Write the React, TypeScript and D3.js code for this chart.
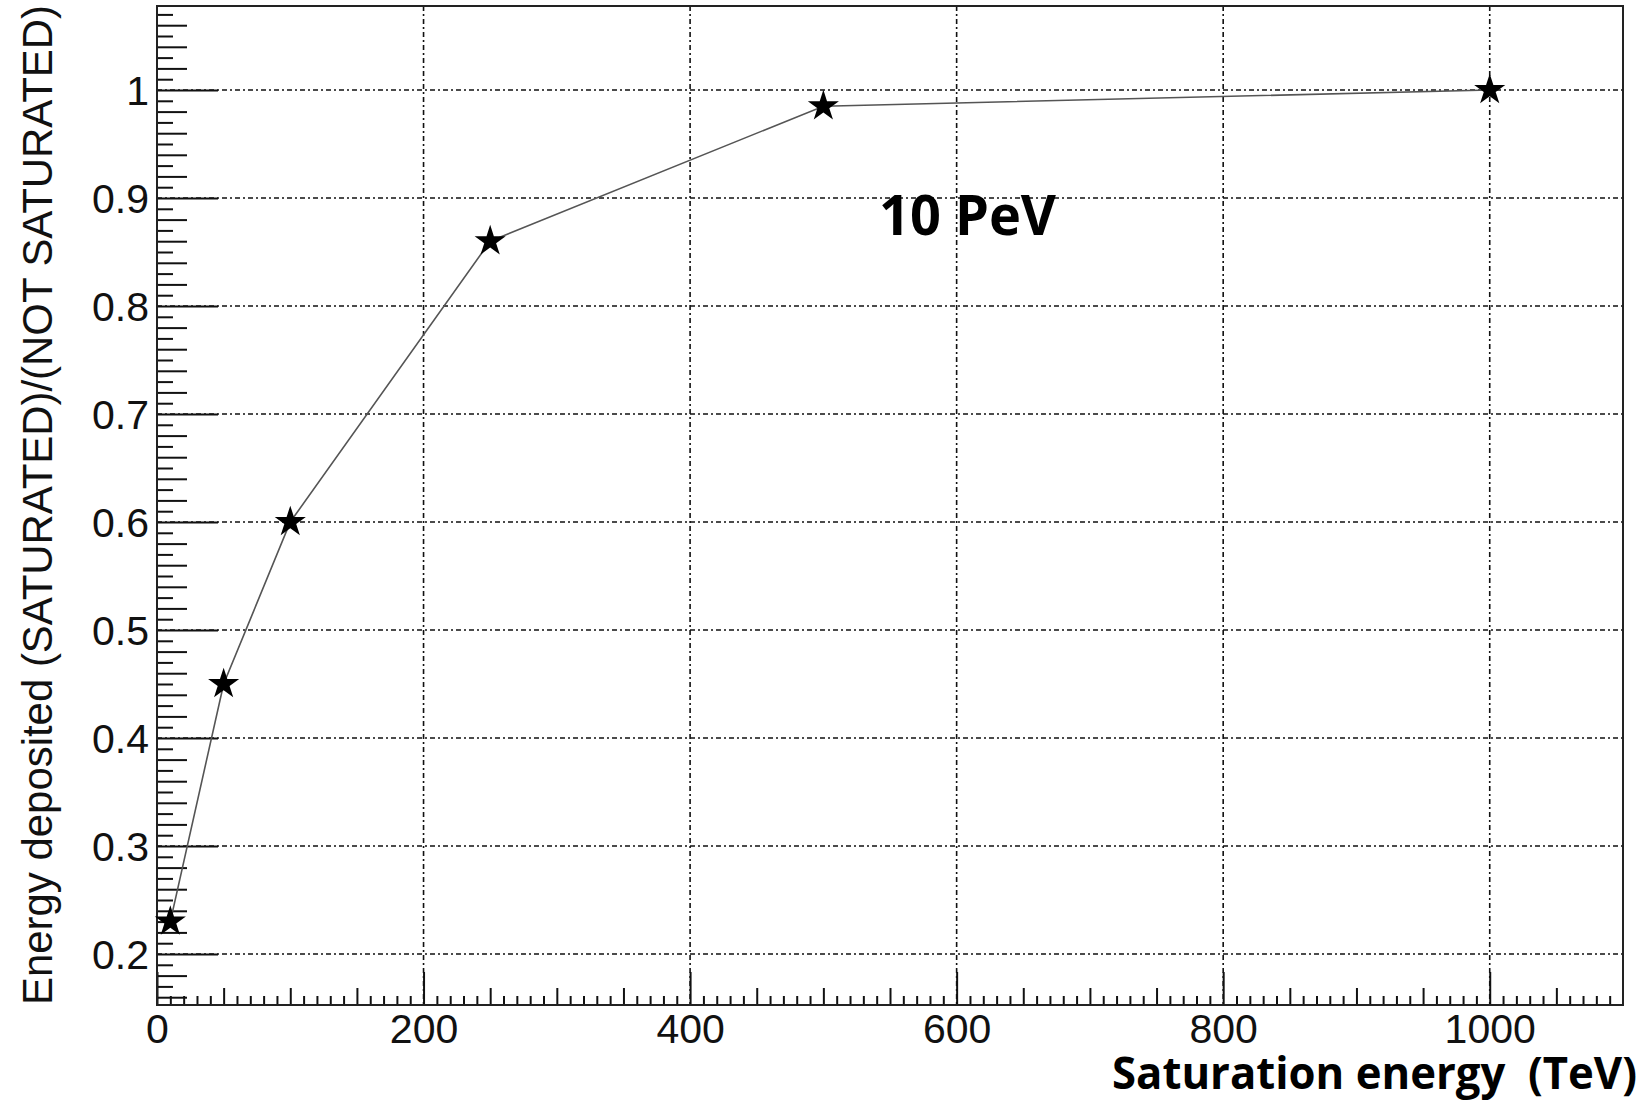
import React, { useRef, useEffect } from 'react';
import * as d3 from 'd3';

// saturation energy (TeV) and deposited-energy ratio
const satEnergy = [10, 50, 100, 250, 500, 1000];
const ratio = [0.23, 0.45, 0.6, 0.86, 0.985, 1.0];

const xMajorTicks = [0, 200, 400, 600, 800, 1000];
const yMajorTicks = [0.2, 0.3, 0.4, 0.5, 0.6, 0.7, 0.8, 0.9, 1.0];

const xTitle = 'Saturation energy  (TeV)';
const yTitle = 'Energy deposited (SATURATED)/(NOT SATURATED)';
const note = '10 PeV';

const W = 1647;
const H = 1101;
const frame = { left: 157, right: 1623, top: 6, bottom: 1005 };

const App = () => {
  const ref = useRef<SVGSVGElement>(null);

  useEffect(() => {
    const svg = d3.select(ref.current);
    svg.selectAll('*').remove();

    const x = d3.scaleLinear().domain([0, 1100]).range([frame.left, frame.right]);
    const y = d3.scaleLinear().domain([0.15278, 1.07778]).range([frame.bottom, frame.top]);

    svg.append('rect').attr('width', W).attr('height', H).attr('fill', 'white');

    // grid
    const grid = svg.append('g').attr('stroke', '#111').attr('stroke-width', 1.6)
      .attr('stroke-dasharray', '5,3,2,3');
    grid.selectAll('.hg').data(yMajorTicks).join('line')
      .attr('x1', frame.left).attr('x2', frame.right)
      .attr('y1', d => y(d)).attr('y2', d => y(d));
    grid.selectAll('.vg').data(xMajorTicks.slice(1)).join('line')
      .attr('y1', frame.top).attr('y2', frame.bottom)
      .attr('x1', d => x(d)).attr('x2', d => x(d));

    const font = "'Liberation Sans', Arial, sans-serif";

    // y ticks
    const yMinor = d3.range(16, 108).map(v => v / 100).filter(v => Math.round(v * 100) % 10 !== 0);
    const yMed = yMinor.filter(v => Math.round(v * 100) % 2 === 0);
    const ySmall = yMinor.filter(v => Math.round(v * 100) % 2 !== 0);

    const yAxisMajor = svg.append('g').attr('transform', `translate(${frame.left},0)`)
      .call(d3.axisLeft(y).tickValues(yMajorTicks).tickSizeInner(-61).tickSizeOuter(0)
        .tickPadding(8).tickFormat(d => String(+(+d).toFixed(1))));
    svg.append('g').attr('transform', `translate(${frame.left},0)`)
      .call(d3.axisLeft(y).tickValues(yMed).tickSizeInner(-30).tickSizeOuter(0).tickFormat(() => ''));
    svg.append('g').attr('transform', `translate(${frame.left},0)`)
      .call(d3.axisLeft(y).tickValues(ySmall).tickSizeInner(-16).tickSizeOuter(0).tickFormat(() => ''));

    // x ticks
    const xMinor = d3.range(10, 1100, 10).filter(v => v % 200 !== 0);
    const xMed = xMinor.filter(v => v % 50 === 0);
    const xSmall = xMinor.filter(v => v % 50 !== 0);

    svg.append('g').attr('transform', `translate(0,${frame.bottom})`)
      .call(d3.axisBottom(x).tickValues(xMajorTicks).tickSizeInner(-33).tickSizeOuter(0)
        .tickPadding(9).tickFormat(d3.format('d')));
    svg.append('g').attr('transform', `translate(0,${frame.bottom})`)
      .call(d3.axisBottom(x).tickValues(xMed).tickSizeInner(-17).tickSizeOuter(0).tickFormat(() => ''));
    svg.append('g').attr('transform', `translate(0,${frame.bottom})`)
      .call(d3.axisBottom(x).tickValues(xSmall).tickSizeInner(-9).tickSizeOuter(0).tickFormat(() => ''));

    svg.selectAll('.domain').remove();
    svg.selectAll('.tick line').attr('stroke', '#111').attr('stroke-width', 2);
    svg.selectAll('.tick text').attr('fill', '#111').style('font-family', font).style('font-size', '41px');
    yAxisMajor.selectAll('.tick text').attr('dy', '0.36em');

    // frame
    svg.append('rect')
      .attr('x', frame.left).attr('y', frame.top)
      .attr('width', frame.right - frame.left).attr('height', frame.bottom - frame.top)
      .attr('fill', 'none').attr('stroke', '#222').attr('stroke-width', 2);

    // data line and stars
    const line = d3.line<number>()
      .x((d, i) => x(satEnergy[i]))
      .y(d => y(d));
    svg.append('path').datum(ratio).attr('d', line)
      .attr('fill', 'none').attr('stroke', '#555').attr('stroke-width', 1.6);

    const star = d3.symbol().type(d3.symbolStar).size(300);
    svg.selectAll('.pt').data(ratio).join('path')
      .attr('transform', (d, i) => `translate(${x(satEnergy[i])},${y(d)})`)
      .attr('d', star)
      .attr('fill', '#000');

    // titles
    svg.append('text')
      .attr('transform', 'translate(52,505) rotate(-90)')
      .attr('text-anchor', 'middle')
      .attr('textLength', 1000).attr('lengthAdjust', 'spacingAndGlyphs')
      .style('font-family', font).style('font-size', '42px').attr('fill', '#111')
      .text(yTitle);

    svg.append('text')
      .attr('x', 1112).attr('y', 1089)
      .attr('textLength', 525).attr('lengthAdjust', 'spacingAndGlyphs')
      .style('font-family', "'Open Sans', sans-serif").style('font-weight', 700)
      .style('font-size', '44px').style('white-space', 'pre').attr('fill', '#000')
      .text(xTitle);

    svg.append('text')
      .attr('x', 879).attr('y', 235)
      .attr('textLength', 177).attr('lengthAdjust', 'spacingAndGlyphs')
      .style('font-family', "'Open Sans', sans-serif").style('font-weight', 700)
      .style('font-size', '56px').attr('fill', '#000')
      .text(note);
  }, []);

  return (
    <div style={{ position: 'absolute', left: 0, top: 0 }}>
      <svg ref={ref} width={W} height={H} style={{ display: 'block' }} />
    </div>
  );
};

export default App;
